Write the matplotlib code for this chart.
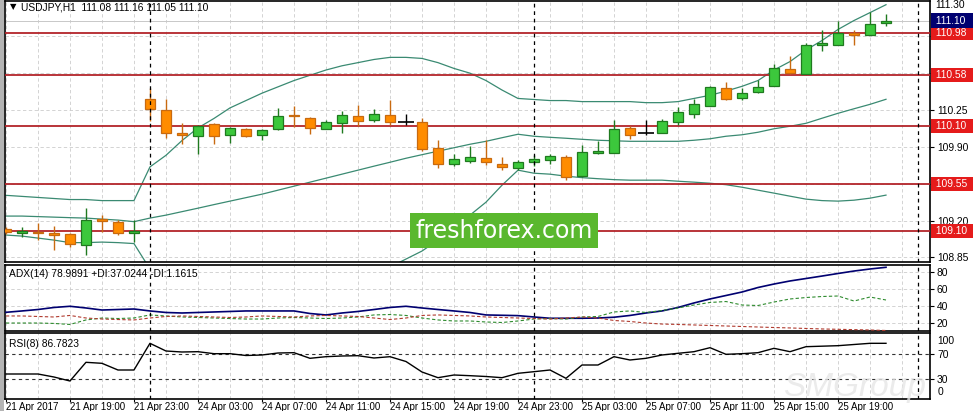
import matplotlib
matplotlib.use('Agg')
import matplotlib.pyplot as plt
import matplotlib.transforms as mtransforms
from matplotlib.patches import Rectangle

# USDJPY H1, 21 Apr 15:00 .. 25 Apr 22:00
opens = [109.12, 109.08, 109.094, 109.08, 109.07, 108.965, 109.214, 109.19, 109.08,
         110.35, 110.254, 110.032, 110.004, 110.115, 110.017, 110.074, 110.013, 110.067,
         110.207, 110.178, 110.074, 110.13, 110.19, 110.153, 110.20, 110.133, 110.137,
         109.894, 109.733, 109.767, 109.792, 109.742, 109.704, 109.752, 109.773, 109.80,
         109.625, 109.843, 109.846, 110.083, 110.032, 110.036, 110.137, 110.216, 110.288,
         110.462, 110.364, 110.421, 110.478, 110.643, 110.595, 110.87, 110.87, 110.984,
         110.965, 111.08]
highs = [109.14, 109.14, 109.18, 109.15, 109.085, 109.32, 109.25, 109.205, 109.205,
         110.46, 110.35, 110.127, 110.105, 110.127, 110.086, 110.08, 110.067, 110.266,
         110.288, 110.18, 110.16, 110.24, 110.30, 110.257, 110.349, 110.216, 110.178,
         109.963, 109.83, 109.906, 109.963, 109.805, 109.773, 109.82, 109.837, 109.82,
         109.916, 109.956, 110.153, 110.096, 110.153, 110.165, 110.279, 110.358, 110.475,
         110.516, 110.462, 110.532, 110.683, 110.759, 110.885, 111.012, 111.094, 111.006,
         111.179, 111.16]
lows = [109.07, 109.04, 109.02, 108.92, 108.95, 108.87, 109.094, 109.06, 109.00,
        110.15, 109.98, 109.93, 109.837, 109.93, 109.94, 109.99, 109.963, 110.058,
        110.09, 110.026, 110.072, 110.036, 110.10, 110.137, 110.105, 110.105, 109.86,
        109.704, 109.717, 109.748, 109.726, 109.679, 109.679, 109.72, 109.742, 109.59,
        109.615, 109.83, 109.843, 109.973, 110.01, 110.032, 110.105, 110.178, 110.285,
        110.342, 110.349, 110.415, 110.475, 110.595, 110.593, 110.81, 110.868, 110.87,
        110.963, 111.05]
closes = [109.09, 109.10, 109.084, 109.065, 108.98, 109.205, 109.192, 109.08, 109.10,
          110.26, 110.032, 110.017, 110.10, 110.004, 110.08, 110.004, 110.06, 110.19,
          110.19, 110.083, 110.14, 110.20, 110.146, 110.21, 110.137, 110.133, 109.878,
          109.735, 109.783, 109.80, 109.752, 109.71, 109.757, 109.783, 109.81, 109.615,
          109.852, 109.862, 110.074, 110.017, 110.032, 110.146, 110.231, 110.304, 110.468,
          110.358, 110.415, 110.472, 110.652, 110.605, 110.863, 110.885, 110.984, 110.965,
          111.07, 111.10]

bb_upper = [109.44, 109.43, 109.42, 109.41, 109.40, 109.40, 109.39, 109.39, 109.39,
            109.71, 109.82, 109.96, 110.08, 110.17, 110.27, 110.34, 110.41, 110.47,
            110.53, 110.58, 110.63, 110.67, 110.70, 110.73, 110.75, 110.75, 110.74,
            110.70, 110.645, 110.60, 110.53, 110.44, 110.36, 110.35, 110.34, 110.34,
            110.33, 110.33, 110.33, 110.33, 110.32, 110.32, 110.33, 110.36, 110.39,
            110.43, 110.475, 110.53, 110.63, 110.71, 110.82, 110.91, 111.015, 111.10,
            111.175, 111.25]
bb_mid = [109.243, 109.243, 109.238, 109.233, 109.228, 109.224, 109.214, 109.205, 109.190,
          109.224, 109.252, 109.285, 109.318, 109.352, 109.385, 109.418, 109.451, 109.489,
          109.527, 109.565, 109.603, 109.641, 109.679, 109.717, 109.754, 109.792, 109.826,
          109.859, 109.892, 109.925, 109.953, 109.987, 110.020, 110.001, 109.991, 109.982,
          109.972, 109.963, 109.958, 109.953, 109.953, 109.953, 109.953, 109.963, 109.977,
          110.001, 110.015, 110.039, 110.072, 110.096, 110.124, 110.172, 110.219, 110.262,
          110.304, 110.352]
bb_lower = [109.063, 109.053, 109.034, 109.015, 108.991, 108.991, 108.996, 108.991, 108.982,
            108.740, 108.683, 108.608, 108.560, 108.532, 108.503, 108.494, 108.494, 108.503,
            108.522, 108.551, 108.579, 108.608, 108.655, 108.702, 108.759, 108.835, 108.911,
            109.015, 109.138, 109.252, 109.375, 109.536, 109.679, 109.650, 109.641, 109.622,
            109.608, 109.598, 109.589, 109.584, 109.584, 109.584, 109.574, 109.565, 109.555,
            109.541, 109.517, 109.489, 109.461, 109.432, 109.404, 109.390, 109.385, 109.394,
            109.413, 109.442]

adx = [32.9, 34.5, 36.2, 38.6, 40.0, 38.0, 35.6, 36.2, 36.8, 34.5,
       32.7, 32.1, 32.7, 33.3, 33.9, 34.5, 34.5, 34.5, 34.5, 31.5,
       29.8, 32.1, 33.9, 36.2, 38.6, 40.0, 38.0, 36.2, 34.5, 32.7,
       29.8, 29.4, 29.0, 27.4, 25.9, 25.9, 25.9, 26.2, 27.1, 29.2,
       32.1, 34.5, 38.6, 43.9, 48.6, 52.7, 56.8, 62.1, 66.2, 69.8,
       72.7, 75.6, 78.6, 81.5, 83.9, 85.9]
plus_di = [20.3, 20.3, 20.3, 19.8, 18.6, 23.9, 26.2, 25.6, 26.2, 29.8,
           28.6, 27.4, 26.8, 26.2, 25.6, 25.0, 25.0, 26.2, 26.8, 26.2,
           25.6, 26.2, 27.4, 29.8, 30.3, 29.2, 26.2, 23.9, 22.7, 22.7,
           21.5, 20.9, 22.7, 25.0, 25.6, 25.0, 27.4, 28.0, 33.3, 34.5,
           32.7, 35.0, 38.0, 41.5, 44.5, 45.6, 41.5, 40.9, 45.0, 48.6,
           50.3, 51.5, 52.1, 46.2, 50.9, 47.4]
minus_di = [28.6, 28.6, 28.0, 27.4, 29.2, 26.2, 25.0, 24.4, 23.9, 26.2,
            28.0, 28.6, 28.0, 27.4, 26.8, 27.4, 28.6, 28.0, 27.4, 28.6,
            29.2, 28.6, 28.0, 26.2, 24.4, 26.2, 29.2, 29.8, 29.2, 28.6,
            27.4, 26.8, 26.2, 25.6, 25.0, 26.2, 27.4, 26.2, 23.3, 22.1,
            20.3, 19.1, 18.6, 18.0, 17.4, 16.8, 16.2, 15.6, 15.0, 14.5,
            13.9, 13.3, 12.9, 12.5, 12.1, 11.5]
rsi = [38.5, 38.5, 38.5, 33.7, 27.3, 57.2, 55.6, 44.9, 44.9, 87.6,
       75.3, 73.7, 74.2, 71.0, 71.0, 68.1, 68.9, 72.1, 72.6, 63.6,
       66.2, 67.3, 67.8, 64.1, 66.2, 58.5, 41.7, 32.6, 36.9, 35.8,
       34.5, 32.6, 39.6, 42.2, 44.9, 31.6, 52.9, 52.9, 66.2, 60.9,
       63.6, 68.9, 71.6, 74.2, 80.6, 70.0, 71.0, 72.6, 79.6, 74.2,
       82.2, 83.0, 83.8, 85.7, 87.6, 87.6]

levels = [110.98, 110.58, 110.10, 109.55, 109.10]
price_ticks = [108.85, 109.20, 109.55, 109.90, 110.25, 110.60, 110.95]
separators = [9, 33, 57]          # day separators (24, 25, 26 Apr 00:00)
xtick_pos = list(range(0, 56, 4))
xtick_labels = ['21 Apr 2017', '21 Apr 19:00', '21 Apr 23:00', '24 Apr 03:00',
                '24 Apr 07:00', '24 Apr 11:00', '24 Apr 15:00', '24 Apr 19:00',
                '24 Apr 23:00', '25 Apr 03:00', '25 Apr 07:00', '25 Apr 11:00',
                '25 Apr 15:00', '25 Apr 19:00']

W, H = 973, 411
FS = 7.4
plt.rcParams['font.family'] = ['Liberation Sans', 'DejaVu Sans']

fig = plt.figure(figsize=(W / 100, H / 100), dpi=100)
fig.patch.set_facecolor('white')


def box(top, bottom, left=5, right=930):
    return [left / W, 1 - bottom / H, (right - left) / W, (bottom - top) / H]


ax = fig.add_axes(box(0.5, 262))
ax_adx = fig.add_axes(box(265, 331))
ax_rsi = fig.add_axes(box(333, 399))

xmin, xmax = -0.06, 57.75
grid_kw = dict(color='#cccccc', lw=0.6, ls=(0, (4, 3)), zorder=0)

for a in (ax, ax_adx, ax_rsi):
    a.set_xlim(xmin, xmax)
    a.set_facecolor('white')
    for s in a.spines.values():
        s.set_color('black')
        s.set_linewidth(1.2)
    a.yaxis.tick_right()
    a.tick_params(axis='y', length=3, labelsize=FS, pad=2, colors='black')
    a.tick_params(axis='x', bottom=False, labelbottom=False)
    for i in range(0, 58, 2):
        a.axvline(i, **grid_kw)
    for s in separators:
        a.axvline(s, color='black', lw=0.9, ls=(0, (3, 3)), zorder=5)

# ---- main price panel
ax.set_ylim(108.807, 111.29)
ax.set_yticks(price_ticks)
# labels hidden behind the level boxes are left empty
hidden = [109.55, 110.60, 110.95]
ax.set_yticklabels(['' if v in hidden else '%.2f' % v for v in price_ticks])
for v in price_ticks + [111.30]:
    ax.axhline(v, **grid_kw)
bt = mtransforms.blended_transform_factory(ax.transAxes, ax.transData)
fig.text(935 / W, 1.0, '111.30', fontsize=FS, va='top', ha='left')
ax.axhline(111.10, color='#c8c8c8', lw=0.7, zorder=1)

idx = list(range(len(opens)))
ax.plot(idx, bb_upper, color='#3a8a72', lw=0.9, zorder=2)
ax.plot(idx, bb_mid, color='#3a8a72', lw=0.9, zorder=2)
ax.plot(idx, bb_lower, color='#3a8a72', lw=0.9, zorder=2)

for lv in levels:
    ax.axhline(lv, color='#b3242a', lw=1.3, zorder=3)

for i in idx:
    o, h, l, c = opens[i], highs[i], lows[i], closes[i]
    if abs(c - o) < 0.001:
        face, edge = 'black', 'black'
    elif c > o:
        face, edge = '#3cc83c', '#1f7a1f'
    else:
        face, edge = '#ff8c00', '#c86a10'
    ax.vlines(i, l, h, color=edge, lw=1.0, zorder=4)
    if face == 'black':
        ax.hlines(o, i - 0.5, i + 0.5, color='black', lw=1.2, zorder=4)
    else:
        ax.bar(i, max(abs(c - o), 0.004), bottom=min(o, c), width=0.62,
               color=face, edgecolor=edge, linewidth=0.9, zorder=4)

for lv in levels:
    ax.text(1.003, lv, ' %.2f  ' % lv, transform=bt, fontsize=FS, color='white', va='center', ha='left',
            bbox=dict(boxstyle='square,pad=0.2', facecolor='#e51b1b', edgecolor='none'),
            clip_on=False, zorder=10)
ax.text(1.003, 111.10, ' %.2f  ' % closes[-1], transform=bt, fontsize=FS, color='white', va='center', ha='left',
        bbox=dict(boxstyle='square,pad=0.2', facecolor='#000070', edgecolor='none'),
        clip_on=False, zorder=10)

fig.text(10 / W, 1 - 7 / H, '\u25bc', fontsize=6, va='center', ha='left', family='DejaVu Sans')
fig.text(21 / W, 1 - 7 / H, 'USDJPY,H1  111.08 111.16 111.05 111.10', fontsize=FS, va='center', ha='left')

# ---- ADX panel
ax_adx.set_ylim(10.9, 88.6)
ax_adx.set_yticks([20, 40, 60, 80])
for v in [20, 40, 60, 80]:
    ax_adx.axhline(v, **grid_kw)
ax_adx.plot(idx, adx, color='#000070', lw=1.2, zorder=3)
ax_adx.plot(idx, plus_di, color='#2e8b2e', lw=0.8, ls=(0, (3, 2)), zorder=3)
ax_adx.plot(idx, minus_di, color='#b03a2e', lw=0.8, ls=(0, (3, 2)), zorder=3)
ax_adx.text(0.004, 0.86, 'ADX(14) 78.9891 +DI:37.0244 -DI:1.1615', transform=ax_adx.transAxes,
            fontsize=FS, va='center', ha='left')

# ---- RSI panel
ax_rsi.set_ylim(-1.5, 104.1)
ax_rsi.set_yticks([30, 70])
ax_rsi.text(1.008, 0.88, '100', transform=ax_rsi.transAxes, fontsize=FS, va='center', ha='left')
ax_rsi.text(1.008, 0.11, '0', transform=ax_rsi.transAxes, fontsize=FS, va='center', ha='left')
for v in [30, 70]:
    ax_rsi.axhline(v, color='#333333', lw=0.8, ls=(0, (3, 3)), zorder=1)
ax_rsi.plot(idx, rsi, color='black', lw=1.0, zorder=3)
ax_rsi.text(0.004, 0.84, 'RSI(8) 86.7823', transform=ax_rsi.transAxes, fontsize=FS, va='center', ha='left')

ax_rsi.set_xticks(xtick_pos)
ax_rsi.set_xticklabels(xtick_labels)
ax_rsi.tick_params(axis='x', bottom=True, labelbottom=True, length=2, labelsize=7.0, pad=0.5)
for t in ax_rsi.get_xticklabels():
    t.set_ha('left')

# left gray strip
fig.add_artist(Rectangle((0, 0), 4 / W, 1, transform=fig.transFigure, facecolor='#b4b4b4',
                         edgecolor='none', zorder=0))

# watermarks
fig.add_artist(Rectangle((410 / W, 1 - 248 / H), 188 / W, 35 / H, transform=fig.transFigure,
                         facecolor='#5ab82e', edgecolor='none', zorder=20))
fig.text(504 / W, 1 - 231 / H, 'freshforex.com', fontsize=17, color='white',
         ha='center', va='center', zorder=21, family='DejaVu Sans')
fig.text(855 / W, 1 - 387 / H, 'SMGroup', fontsize=24, color='#e6e6e6', style='italic',
         ha='center', va='center', zorder=1, alpha=0.8)

fig.savefig('out.png', dpi=100, facecolor='white')
